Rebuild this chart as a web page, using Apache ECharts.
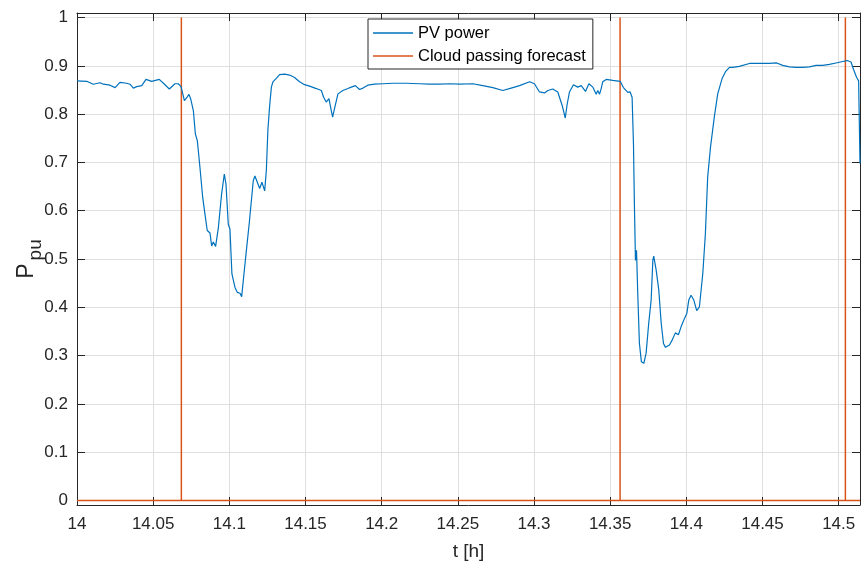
<!DOCTYPE html>
<html>
<head>
<meta charset="utf-8">
<script src="https://cdn.jsdelivr.net/npm/echarts@6/dist/echarts.min.js"></script>
<style>
  html, body { margin: 0; padding: 0; background: #fff; }
  #chart { width: 861px; height: 564px; }
</style>
</head>
<body>
<div id="chart"></div>
<script>
// Time stamps [h] of the PV power trace
const pvTime = [
  14.0000, 14.0064, 14.0107, 14.0151, 14.0173, 14.0217, 14.0250, 14.0282, 14.0326, 14.0348,
  14.0370, 14.0392, 14.0425, 14.0453, 14.0490, 14.0540, 14.0571, 14.0606, 14.0643, 14.0665,
  14.0683, 14.0705, 14.0720, 14.0735, 14.0746, 14.0764, 14.0777, 14.0790, 14.0807, 14.0825,
  14.0840, 14.0855, 14.0873, 14.0884, 14.0895, 14.0910, 14.0928, 14.0949, 14.0967, 14.0978,
  14.0993, 14.1004, 14.1017, 14.1037, 14.1052, 14.1070, 14.1081, 14.1096, 14.1114, 14.1131,
  14.1144, 14.1157, 14.1168, 14.1199, 14.1214, 14.1232, 14.1243, 14.1253, 14.1264, 14.1276,
  14.1286, 14.1297, 14.1308, 14.1330, 14.1363, 14.1396, 14.1428, 14.1461, 14.1494, 14.1527,
  14.1571, 14.1604, 14.1619, 14.1636, 14.1654, 14.1667, 14.1678, 14.1693, 14.1713, 14.1745,
  14.1778, 14.1801, 14.1827, 14.1855, 14.1877, 14.1909, 14.1953, 14.2008, 14.2073, 14.2161,
  14.2249, 14.2314, 14.2380, 14.2446, 14.2511, 14.2598, 14.2664, 14.2730, 14.2795, 14.2850,
  14.2905, 14.2971, 14.3003, 14.3036, 14.3069, 14.3091, 14.3123, 14.3156, 14.3185, 14.3205,
  14.3218, 14.3233, 14.3259, 14.3287, 14.3310, 14.3338, 14.3360, 14.3386, 14.3408, 14.3419,
  14.3430, 14.3441, 14.3451, 14.3474, 14.3517, 14.3566, 14.3587, 14.3616, 14.3631, 14.3644,
  14.3653, 14.3659, 14.3666, 14.3673, 14.3681, 14.3692, 14.3705, 14.3721, 14.3736, 14.3753,
  14.3769, 14.3780, 14.3786, 14.3802, 14.3819, 14.3835, 14.3850, 14.3863, 14.3889, 14.3907,
  14.3928, 14.3948, 14.3966, 14.3988, 14.4003, 14.4016, 14.4031, 14.4049, 14.4068, 14.4086,
  14.4108, 14.4125, 14.4140, 14.4158, 14.4184, 14.4206, 14.4235, 14.4257, 14.4283, 14.4304,
  14.4348, 14.4414, 14.4480, 14.4545, 14.4593, 14.4633, 14.4677, 14.4720, 14.4764, 14.4808,
  14.4852, 14.4895, 14.4939, 14.4983, 14.5026, 14.5055, 14.5081, 14.5097, 14.5118, 14.5131,
  14.5140
];

// PV power [p.u.]
const pvPower = [
  0.869, 0.868, 0.862, 0.865, 0.862, 0.860, 0.855, 0.866, 0.864, 0.862,
  0.854, 0.857, 0.859, 0.872, 0.868, 0.872, 0.863, 0.852, 0.863, 0.863,
  0.857, 0.828, 0.834, 0.841, 0.832, 0.807, 0.759, 0.745, 0.690, 0.628,
  0.593, 0.559, 0.554, 0.527, 0.535, 0.526, 0.565, 0.634, 0.676, 0.655,
  0.572, 0.562, 0.469, 0.441, 0.431, 0.429, 0.422, 0.469, 0.524, 0.575,
  0.579, 0.662, 0.672, 0.646, 0.659, 0.641, 0.684, 0.766, 0.815, 0.856,
  0.867, 0.863, 0.874, 0.882, 0.883, 0.881, 0.876, 0.867, 0.861, 0.858,
  0.853, 0.849, 0.835, 0.825, 0.832, 0.811, 0.794, 0.815, 0.842, 0.849,
  0.853, 0.856, 0.859, 0.851, 0.854, 0.860, 0.862, 0.863, 0.864, 0.864,
  0.863, 0.862, 0.862, 0.863, 0.862, 0.863, 0.859, 0.855, 0.849, 0.854,
  0.859, 0.867, 0.863, 0.846, 0.844, 0.849, 0.852, 0.846, 0.818, 0.792,
  0.821, 0.846, 0.861, 0.856, 0.859, 0.847, 0.863, 0.856, 0.841, 0.849,
  0.841, 0.853, 0.867, 0.872, 0.870, 0.868, 0.855, 0.845, 0.846, 0.835,
  0.738, 0.614, 0.497, 0.518, 0.429, 0.325, 0.287, 0.284, 0.305, 0.367,
  0.415, 0.497, 0.506, 0.477, 0.436, 0.367, 0.325, 0.317, 0.322, 0.332,
  0.347, 0.343, 0.360, 0.377, 0.387, 0.415, 0.425, 0.415, 0.393, 0.401,
  0.470, 0.552, 0.669, 0.730, 0.795, 0.842, 0.874, 0.888, 0.897, 0.897,
  0.899, 0.905, 0.905, 0.905, 0.906, 0.901, 0.898, 0.897, 0.897, 0.898,
  0.901, 0.901, 0.903, 0.906, 0.909, 0.911, 0.908, 0.893, 0.876, 0.869,
  0.698
];

// Instants [h] at which a cloud passing is forecast
const forecastTime = [14.0685, 14.3565, 14.5044];
const forecastOff = 0;
const forecastOn = 1;

// Axis extents and ticks
const xRange = [14, 14.514];
const yRange = [-0.0095, 1.0095];
const xTicks = [14, 14.05, 14.1, 14.15, 14.2, 14.25, 14.3, 14.35, 14.4, 14.45, 14.5];
const yTicks = [0, 0.1, 0.2, 0.3, 0.4, 0.5, 0.6, 0.7, 0.8, 0.9, 1];

const pvData = pvTime.map((t, i) => [t, pvPower[i]]);
const forecastData = [[xRange[0], forecastOff]];
forecastTime.forEach(t => {
  forecastData.push([t, forecastOff], [t, forecastOn], [t, forecastOff]);
});
forecastData.push([xRange[1], forecastOff]);

const FONT = 'Liberation Sans, Arial, Helvetica, sans-serif';
const AXIS_COLOR = '#262626';
const GRID_COLOR = '#dfdfdf';
const PV_COLOR = '#0072BD';
const FC_COLOR = '#D95319';

const fmt = v => String(+v.toFixed(2));

const baseAxis = {
  axisLine: { show: true, onZero: false, lineStyle: { color: AXIS_COLOR, width: 1 } },
  axisTick: { show: true, inside: true, length: 8, lineStyle: { color: AXIS_COLOR, width: 1 } },
  splitLine: { show: false },
  axisLabel: { show: false }
};

const chart = echarts.init(document.getElementById('chart'), null, { renderer: 'canvas' });
chart.setOption({
  animation: false,
  backgroundColor: '#ffffff',
  grid: { left: 77, right: 1, top: 13, bottom: 59, containLabel: false, outerBoundsMode: 'none' },
  xAxis: [
    {
      type: 'value', min: xRange[0], max: xRange[1], position: 'bottom',
      name: 't [h]', nameLocation: 'middle', nameGap: 37, nameMoveOverlap: false,
      nameTextStyle: { fontFamily: FONT, fontSize: 19, color: AXIS_COLOR },
      axisLine: baseAxis.axisLine,
      axisTick: Object.assign({}, baseAxis.axisTick, { customValues: xTicks }),
      axisLabel: { show: true, customValues: xTicks, formatter: fmt, margin: 11,
        fontFamily: FONT, fontSize: 17, color: AXIS_COLOR },
      splitLine: { show: true, lineStyle: { color: GRID_COLOR, width: 1 } }
    },
    Object.assign({}, baseAxis, {
      type: 'value', min: xRange[0], max: xRange[1], position: 'top',
      axisTick: Object.assign({}, baseAxis.axisTick, { customValues: xTicks })
    })
  ],
  yAxis: [
    {
      type: 'value', min: yRange[0], max: yRange[1], position: 'left',
      name: '{p|P}{s|pu}', nameLocation: 'middle', nameGap: 32, nameRotate: 90,
      nameMoveOverlap: false,
      nameTextStyle: {
        color: AXIS_COLOR, fontFamily: FONT,
        rich: {
          p: { fontFamily: FONT, fontSize: 23, color: AXIS_COLOR, lineHeight: 30, verticalAlign: 'top' },
          s: { fontFamily: FONT, fontSize: 19, color: AXIS_COLOR, lineHeight: 30, verticalAlign: 'bottom', padding: [10, 0, 0, 3] }
        }
      },
      axisLine: baseAxis.axisLine,
      axisTick: Object.assign({}, baseAxis.axisTick, { customValues: yTicks }),
      axisLabel: { show: true, customValues: yTicks, formatter: fmt, margin: 9,
        fontFamily: FONT, fontSize: 17, color: AXIS_COLOR },
      splitLine: { show: true, lineStyle: { color: GRID_COLOR, width: 1 } }
    },
    Object.assign({}, baseAxis, {
      type: 'value', min: yRange[0], max: yRange[1], position: 'right',
      axisTick: Object.assign({}, baseAxis.axisTick, { customValues: yTicks })
    })
  ],
  legend: {
    orient: 'vertical', left: 368, top: 19,
    padding: [4, 7, 3, 5], itemGap: 3, itemWidth: 40, itemHeight: 1.4,
    backgroundColor: '#ffffff', borderColor: AXIS_COLOR, borderWidth: 1,
    textStyle: { fontFamily: FONT, fontSize: 16.5, color: '#000', lineHeight: 20 },
    data: [
      { name: 'PV power', icon: 'rect', itemStyle: { color: PV_COLOR } },
      { name: 'Cloud passing forecast', icon: 'rect', itemStyle: { color: FC_COLOR } }
    ]
  },
  series: [
    {
      name: 'PV power', type: 'line', data: pvData,
      symbol: 'none', showSymbol: false, smooth: false,
      lineStyle: { color: PV_COLOR, width: 1.2 }, itemStyle: { color: PV_COLOR },
      clip: true, z: 3
    },
    {
      name: 'Cloud passing forecast', type: 'line', data: forecastData,
      symbol: 'none', showSymbol: false,
      lineStyle: { color: FC_COLOR, width: 1.5 }, itemStyle: { color: FC_COLOR },
      clip: true, z: 2
    }
  ]
});
</script>
</body>
</html>
